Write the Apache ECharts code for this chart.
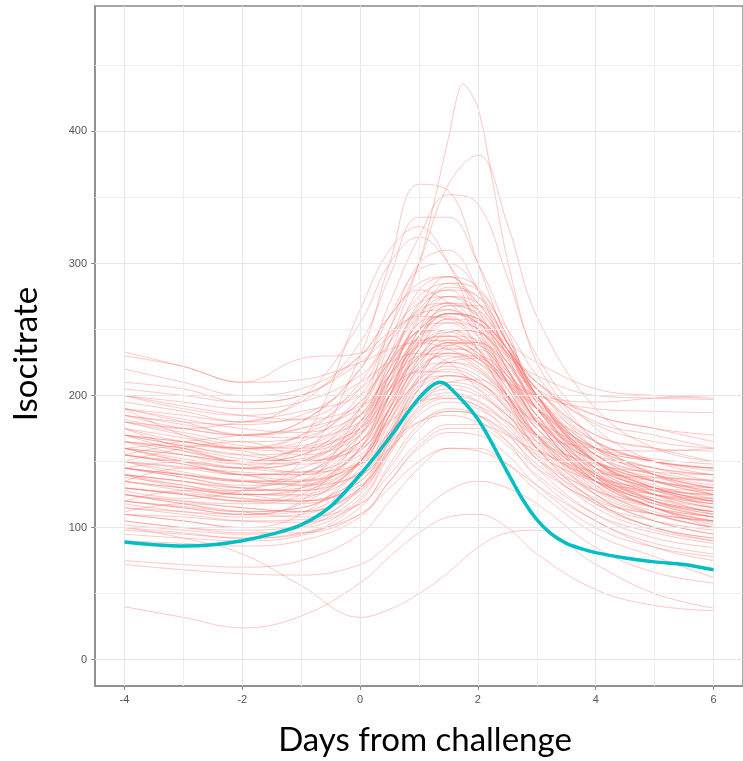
<!DOCTYPE html>
<html><head><meta charset="utf-8">
<script src="https://cdn.jsdelivr.net/npm/echarts@6/dist/echarts.min.js"></script>
<style>html,body{margin:0;padding:0;background:#fff}#c{width:743px;height:761px}</style>
</head><body><div id="c"></div>
<script>
// x positions (days from challenge) shared by the subject curves
const days = [-4,-3,-2,-1,0,0.5,1,1.5,2,2.5,3,4,5,6];
// finer x positions for the tallest subject curve
const daysFine = [-4,-3,-2,-1,0,0.5,1,1.25,1.5,1.75,2,2.25,2.5,3,4,5,6];
const xTicks = [-4,-2,0,2,4,6];
const yTicks = [0,100,200,300,400];
const xGrid = [-4,-3,-2,-1,0,1,2,3,4,5,6];
const yGrid = [0,50,100,150,200,250,300,350,400,450];

// tallest subject curve (on daysFine)
const s1 = [155,150,150,160,190,240,300,345,395,436,418,362,303,225,165,140,130];
// other subject curves (on days)
const s2 = [170,165,160,170,210,250,300,360,382,330,260,190,160,150];
const s3 = [140,135,130,150,230,300,360,355,300,240,190,150,130,120];
const s4 = [180,175,170,180,220,270,320,352,345,290,230,175,150,140];
const s5 = [200,190,185,195,240,290,335,335,300,250,200,160,145,135];
const s6 = [160,150,145,165,265,310,328,300,250,210,180,150,135,125];
const s7 = [130,125,120,130,190,250,300,310,280,230,190,150,130,115];
const s8 = [190,180,170,180,220,260,295,300,280,240,205,170,160,150];
const s9 = [150,140,135,140,180,230,280,290,265,220,180,140,120,110];
const s10 = [175,165,160,165,200,240,275,285,270,235,200,160,145,140];
const s11 = [120,115,110,120,170,220,270,280,255,210,170,125,105,95];
const s12 = [220,210,200,205,230,260,285,290,270,240,210,180,170,160];
const s13 = [140,130,125,130,160,200,250,275,270,240,200,150,125,110];
const s14 = [165,160,150,155,190,230,265,280,275,250,215,165,140,125];
const s15 = [135,130,128,135,175,225,260,270,250,210,175,135,115,100];
const s16 = [185,175,170,175,205,245,270,275,260,230,200,165,150,145];
const s17 = [155,150,145,150,185,220,255,270,265,235,195,150,130,120];
const s18 = [110,105,100,110,150,200,250,265,245,200,160,120,100,90];
const s19 = [200,195,190,195,215,240,265,270,260,235,210,185,175,165];
const s20 = [145,138,132,135,165,205,245,262,255,225,190,145,125,115];
const s21 = [125,120,118,125,160,210,255,260,235,195,160,125,110,100];
const s22 = [170,162,155,158,185,220,250,262,258,235,205,160,140,130];
const s23 = [160,150,140,145,175,215,250,255,240,210,180,145,130,125];
const s24 = [130,125,120,122,150,190,235,255,250,220,180,135,115,105];
const s25 = [210,205,195,200,225,245,260,258,245,225,205,185,175,170];
const s26 = [150,145,140,142,170,210,245,250,235,205,175,140,125,118];
const s27 = [180,172,165,168,195,225,248,250,240,215,190,155,140,132];
const s28 = [115,112,110,118,150,195,235,248,235,200,165,125,105,95];
const s29 = [140,135,128,130,160,200,238,245,230,200,170,135,120,112];
const s30 = [165,155,148,150,178,210,238,242,232,210,185,150,135,128];
const s31 = [195,188,180,182,205,228,242,240,228,210,190,165,150,143];
const s32 = [125,118,112,115,145,185,225,240,232,205,170,130,112,104];
const s33 = [155,148,140,140,165,200,230,238,228,200,170,140,128,122];
const s34 = [135,130,125,125,150,185,220,232,225,200,170,132,115,108];
const s35 = [170,165,160,162,185,210,230,232,222,200,178,150,138,130];
const s36 = [145,140,135,135,158,190,222,230,220,195,165,135,122,115];
const s37 = [230,222,210,212,225,235,240,235,225,210,200,195,198,200];
const s38 = [205,200,195,200,230,260,280,270,250,230,215,200,198,197];
const s39 = [160,155,150,155,180,215,240,245,235,215,200,190,188,187];
const s40 = [120,115,110,112,138,175,212,225,220,198,168,128,110,100];
const s41 = [150,142,135,133,152,182,212,222,215,195,170,138,125,120];
const s42 = [180,170,162,160,175,200,220,225,218,200,180,155,145,140];
const s43 = [105,100,98,102,130,170,208,220,212,188,155,118,100,92];
const s44 = [140,132,126,124,142,172,205,215,210,192,168,135,120,112];
const s45 = [130,125,120,118,135,165,198,210,205,185,160,128,115,108];
const s46 = [165,158,150,148,162,188,210,215,208,190,170,145,135,130];
const s47 = [110,105,100,100,122,158,195,208,202,182,152,115,98,90];
const s48 = [190,182,175,172,185,205,218,218,210,195,180,160,152,148];
const s49 = [145,138,130,128,142,168,195,205,200,185,162,135,125,122];
const s50 = [125,120,115,112,128,158,190,200,195,178,152,122,110,105];
const s51 = [100,96,92,95,120,155,188,198,192,172,145,110,92,85];
const s52 = [155,148,140,136,148,172,195,202,196,180,160,138,130,128];
const s53 = [135,128,122,120,132,158,185,195,190,175,152,128,118,112];
const s54 = [170,162,155,150,160,180,195,198,192,180,165,148,142,140];
const s55 = [115,110,105,104,118,145,175,188,185,170,148,118,105,98];
const s56 = [95,92,90,94,115,148,178,190,185,165,138,105,88,80];
const s57 = [145,140,135,132,140,160,180,188,185,172,155,135,128,125];
const s58 = [125,118,112,108,118,140,165,178,178,165,145,120,110,105];
const s59 = [160,155,148,142,148,165,180,185,180,170,158,142,138,136];
const s60 = [105,100,96,96,110,135,162,175,175,162,140,110,96,88];
const s61 = [185,180,178,185,210,225,232,225,205,185,170,160,158,160];
const s62 = [90,88,86,90,108,135,160,172,170,155,132,100,85,78];
const s63 = [75,72,70,75,95,120,145,160,160,148,128,95,78,62];
const s64 = [72,68,65,64,72,88,110,128,135,130,118,85,66,58];
const s65 = [40,32,24,33,58,78,96,108,110,100,80,53,41,37];
const s66 = [100,92,80,56,32,38,50,66,85,96,98,72,50,39];
const s67 = [98,95,92,96,110,130,150,160,158,148,132,105,85,75];
const s68 = [233,222,210,228,232,248,262,265,255,240,225,205,200,198];
const s69 = [190,185,180,198,255,300,320,300,260,220,190,160,150,145];
const s70 = [160,152,145,142,158,190,225,240,238,218,190,150,132,122];
const s71 = [140,135,130,128,148,185,228,250,248,225,192,145,125,115];
const s72 = [175,168,160,158,172,200,230,245,242,222,195,158,142,135];
const s73 = [120,116,112,115,140,180,222,242,240,215,180,135,115,105];
const s74 = [150,146,142,140,155,185,218,232,228,208,182,145,130,124];
const s75 = [185,178,170,168,180,205,228,236,230,212,190,160,150,145];
const s76 = [130,126,122,120,138,170,205,225,228,210,182,140,122,112];
const s77 = [165,160,152,150,165,195,228,248,250,232,200,155,136,128];
const s78 = [200,192,185,182,192,215,238,250,248,232,210,178,165,160];
const s79 = [110,108,105,106,128,165,205,228,230,212,180,132,110,100];
const s80 = [145,140,136,135,150,180,215,235,235,215,185,142,125,118];
const s81 = [118,112,108,110,130,160,192,210,212,198,175,138,118,108];
const s82 = [102,98,95,100,125,162,200,215,210,190,160,120,100,92];
const s83 = [175,160,150,160,175,205,240,258,250,225,195,150,130,120];
const s84 = [150,160,165,155,170,205,245,268,262,235,198,150,128,118];
const s85 = [190,170,160,170,195,230,262,275,265,235,200,155,135,125];
const s86 = [135,145,140,132,150,190,235,258,255,228,190,142,120,110];
const s87 = [160,165,170,175,190,215,245,262,258,235,205,165,150,145];
const s88 = [128,122,128,140,170,215,260,282,275,240,195,140,118,108];
const s89 = [145,150,145,150,175,215,258,285,280,245,200,148,128,120];
const s90 = [170,158,150,152,180,225,268,290,282,245,200,155,140,135];
const s91 = [120,128,125,120,135,172,215,240,240,218,185,138,115,102];
const s92 = [182,175,180,188,200,225,250,262,255,232,205,170,160,158];
const s93 = [138,132,125,128,150,192,240,268,268,240,200,145,120,108];
const s94 = [155,162,158,150,165,200,242,262,258,232,198,152,135,130];
const s95 = [112,118,115,112,130,168,212,238,240,220,185,138,115,105];

const subjects = [s2,s3,s4,s5,s6,s7,s8,s9,s10,s11,s12,s13,s14,s15,s16,s17,s18,s19,s20,
  s21,s22,s23,s24,s25,s26,s27,s28,s29,s30,s31,s32,s33,s34,s35,s36,s37,s38,s39,s40,
  s41,s42,s43,s44,s45,s46,s47,s48,s49,s50,s51,s52,s53,s54,s55,s56,s57,s58,s59,s60,
  s61,s62,s63,s64,s65,s66,s67,s68,s69,s70,s71,s72,s73,s74,s75,s76,s77,s78,s79,s80,
  s81,s82,s83,s84,s85,s86,s87,s88,s89,s90,s91,s92,s93,s94,s95];

// group mean curve
const meanDays = [-4,-3.5,-3,-2.5,-2,-1.5,-1,-0.5,0,0.5,1,1.35,1.5,2,2.5,2.75,3,3.25,3.5,3.75,4,4.5,5,5.5,6];
const meanVals = [89,87,86,87,90,95,102,116,140,168,198,210,207,182,142,122,106,95,88,84,81,77,74,72,68];

const chart = echarts.init(document.getElementById('c'), null, {renderer:'canvas'});

const redStyle = {color:'rgba(248,118,109,0.4)', width:1};
const series = [];
series.push({
  type:'line', data:[], silent:true, z:1,
  markLine:{
    silent:true, symbol:['none','none'], label:{show:false}, animation:false,
    emphasis:{disabled:true},
    data: xGrid.map(v=>({xAxis:v, lineStyle:{color: (v%2===0)?'#e6e6e6':'#efefef', width:1, type:'solid'}}))
      .concat(yGrid.map(v=>({yAxis:v, lineStyle:{color: (v%100===0)?'#e6e6e6':'#efefef', width:1, type:'solid'}})))
  }
});
series.push({
  type:'line', data: daysFine.map((d,i)=>[d,s1[i]]), smooth:0.3, symbol:'none', silent:true, z:3,
  lineStyle:redStyle
});
subjects.forEach(v=>{
  series.push({
    type:'line', data: days.map((d,i)=>[d,v[i]]), smooth:0.4, symbol:'none', silent:true, z:3,
    lineStyle:redStyle
  });
});
series.push({
  type:'line', data: meanDays.map((d,i)=>[d,meanVals[i]]), smooth:0.3, symbol:'none', silent:true, z:5,
  lineStyle:{color:'#00BFC4', width:3.5}
});

chart.setOption({
  animation:false,
  backgroundColor:'#ffffff',
  grid:{left:95, top:6, width:658, height:680, show:true, borderColor:'#8a8a8a', borderWidth:1.5, backgroundColor:'transparent'},
  xAxis:{
    type:'value', min:-4.5, max:6.5,
    axisLine:{show:true, onZero:false, lineStyle:{color:'#8a8a8a', width:1.5}},
    axisTick:{show:true, length:4, lineStyle:{color:'#8a8a8a'}, customValues:xTicks},
    axisLabel:{color:'#555555', fontSize:11, fontFamily:'Liberation Sans', margin:8, customValues:xTicks},
    splitLine:{show:false}
  },
  yAxis:{
    type:'value', min:-20, max:495,
    axisLine:{show:true, onZero:false, lineStyle:{color:'#8a8a8a', width:1.5}},
    axisTick:{show:true, length:4, lineStyle:{color:'#8a8a8a'}, customValues:yTicks},
    axisLabel:{color:'#555555', fontSize:11, fontFamily:'Liberation Sans', margin:8, customValues:yTicks},
    splitLine:{show:false}
  },
  graphic:[
    {type:'text', x:425, y:740, silent:true, style:{text:'Days from challenge', font:'33px Lato', fill:'#000', align:'center', verticalAlign:'middle'}},
    {type:'text', x:26, y:354, rotation:Math.PI/2, silent:true, style:{text:'Isocitrate', font:'33px Lato', fill:'#000', align:'center', verticalAlign:'middle'}}
  ],
  series: series
});
</script></body></html>
